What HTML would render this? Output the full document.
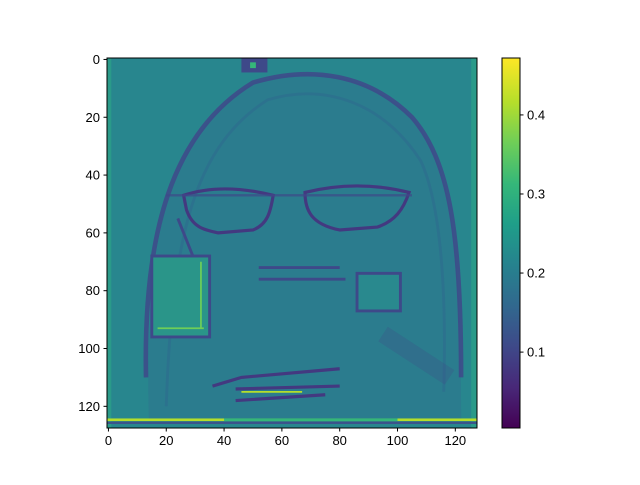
<!DOCTYPE html>
<html><head><meta charset="utf-8"><style>
body{margin:0;background:#fff;font-family:"Liberation Sans",sans-serif;}
svg text{font-family:"Liberation Sans",sans-serif;font-size:13px;fill:#000;}
</style></head><body>
<svg width="640" height="480">
<defs>
<linearGradient id="vir" x1="0" y1="1" x2="0" y2="0">
<stop offset="0" stop-color="#440154"/><stop offset="0.11" stop-color="#482878"/><stop offset="0.22" stop-color="#3e4989"/><stop offset="0.33" stop-color="#31688e"/><stop offset="0.44" stop-color="#26828e"/><stop offset="0.55" stop-color="#1f9e89"/><stop offset="0.66" stop-color="#35b779"/><stop offset="0.77" stop-color="#6ece58"/><stop offset="0.88" stop-color="#b5de2b"/><stop offset="1" stop-color="#fde725"/>
</linearGradient>
<clipPath id="clip"><rect x="-0.5" y="-0.5" width="128" height="128"/></clipPath>
</defs>
<svg x="107" y="58" width="370" height="370" viewBox="-0.5 -0.5 128 128" preserveAspectRatio="none">
<g clip-path="url(#clip)" fill="none">
<rect x="-0.5" y="-0.5" width="128" height="128" fill="#28868e" stroke="none"/>
<path d="M14,125 C12,60 22,25 50,8 C70,2 90,5 105,20 C118,35 122,60 122,125 Z" fill="#2b7c8e" stroke="none"/>
<path d="M13,110 C12,60 22,25 50,8 C70,2 90,5 105,20 C118,35 122,60 122,110" stroke="#3e4989" stroke-width="1.6" opacity="0.85"/>
<path d="M20,120 C22,60 30,30 55,14 C75,8 95,15 108,35 C115,50 117,80 116,115" stroke="#2e6d8e" stroke-width="1" opacity="0.7"/>
<rect x="-0.5" y="-0.5" width="1.5" height="128" fill="#2a9a89" stroke="none"/>
<rect x="125.5" y="-0.5" width="2" height="128" fill="#2a9a89" stroke="none"/>
<rect x="46" y="-0.5" width="9" height="5" fill="#3e4989" stroke="none"/>
<rect x="49" y="1" width="2" height="2" fill="#35b779" stroke="none"/>
<path d="M26,47 L27,52 C29,58 33,59 38,60 L50,59 C55,57 56,53 57,47 C45,44 35,44 26,47 Z" stroke="#46327e" stroke-width="1.1" opacity="0.9"/>
<path d="M68,46 C68,52 70,57 80,59 L93,58 C99,56 102,52 104,46 C92,43 80,43 68,46 Z" stroke="#46327e" stroke-width="1.1" opacity="0.9"/>
<path d="M20,47 L105,47" stroke="#3e4989" stroke-width="0.8" opacity="0.7"/>
<path d="M24,55 L30,70" stroke="#3e4989" stroke-width="1"/>
<rect x="15" y="68" width="20" height="28" fill="#2a9589" stroke="#3e4989" stroke-width="1"/>
<path d="M32,70 L32,93 M17,93 L33,93" stroke="#6ece58" stroke-width="0.6"/>
<rect x="86" y="74" width="15" height="13" fill="#29898e" stroke="#3e4989" stroke-width="1"/>
<path d="M52,72 L80,72 M52,76 L82,76" stroke="#3e4989" stroke-width="1"/>
<path d="M36,113 L46,110 L80,107 M44,114 L80,113 M44,118 L75,116" stroke="#46327e" stroke-width="1.1" opacity="0.9"/>
<path d="M46,115 L67,115" stroke="#b5de2b" stroke-width="0.6"/>
<path d="M95,95 L118,110" stroke="#3e4989" stroke-width="6" opacity="0.25"/>
<rect x="-0.5" y="124.2" width="128" height="0.9" fill="#b5de2b" stroke="none"/>
<rect x="-0.5" y="125.3" width="128" height="0.8" fill="#3b528b" stroke="none"/>
<rect x="40" y="124.2" width="60" height="0.9" fill="#35b779" stroke="none"/>
</g>
</svg>
<rect x="107" y="58" width="370" height="370" fill="none" stroke="#000" stroke-width="1"/>
<g id="xticks"></g>
<g id="yticks"></g>
<rect x="502" y="58" width="18" height="370" fill="url(#vir)" stroke="#000" stroke-width="1"/>
<g id="cticks"></g>
</svg>
<script>
const xTicks=[0,20,40,60,80,100,120];
const yTicks=[0,20,40,60,80,100,120];
const cTicks=[0.1,0.2,0.3,0.4];
const cMin=0.004, cMax=0.472;
const NS="http://www.w3.org/2000/svg";
const px=v=>107+(v+0.5)*370/128;
const cy=v=>428-(v-cMin)/(cMax-cMin)*370;
function mk(p,tag,a,txt){const e=document.createElementNS(NS,tag);for(const k in a)e.setAttribute(k,a[k]);if(txt!==undefined)e.textContent=txt;p.appendChild(e);return e;}
const gx=document.getElementById('xticks'),gy=document.getElementById('yticks'),gc=document.getElementById('cticks');
xTicks.forEach(t=>{const x=px(t);
const l=mk(gx,'line',{x1:x,x2:x,y1:428,y2:431.5,stroke:'#000'});


const s=mk(gx,'text',{x:x,y:445,'text-anchor':'middle'},String(t));

});
yTicks.forEach(t=>{const y=58+(t+0.5)*370/128;
const l=mk(gy,'line',{x1:103.5,x2:107,y1:y,y2:y,stroke:'#000'});


const s=mk(gy,'text',{x:100,y:y+4.5,'text-anchor':'end'},String(t));

});
cTicks.forEach(t=>{const y=cy(t);
const l=mk(gc,'line',{x1:520,x2:523.5,y1:y,y2:y,stroke:'#000'});


const s=mk(gc,'text',{x:527,y:y+4.5},t.toFixed(1));

});
</script>
</body></html>
